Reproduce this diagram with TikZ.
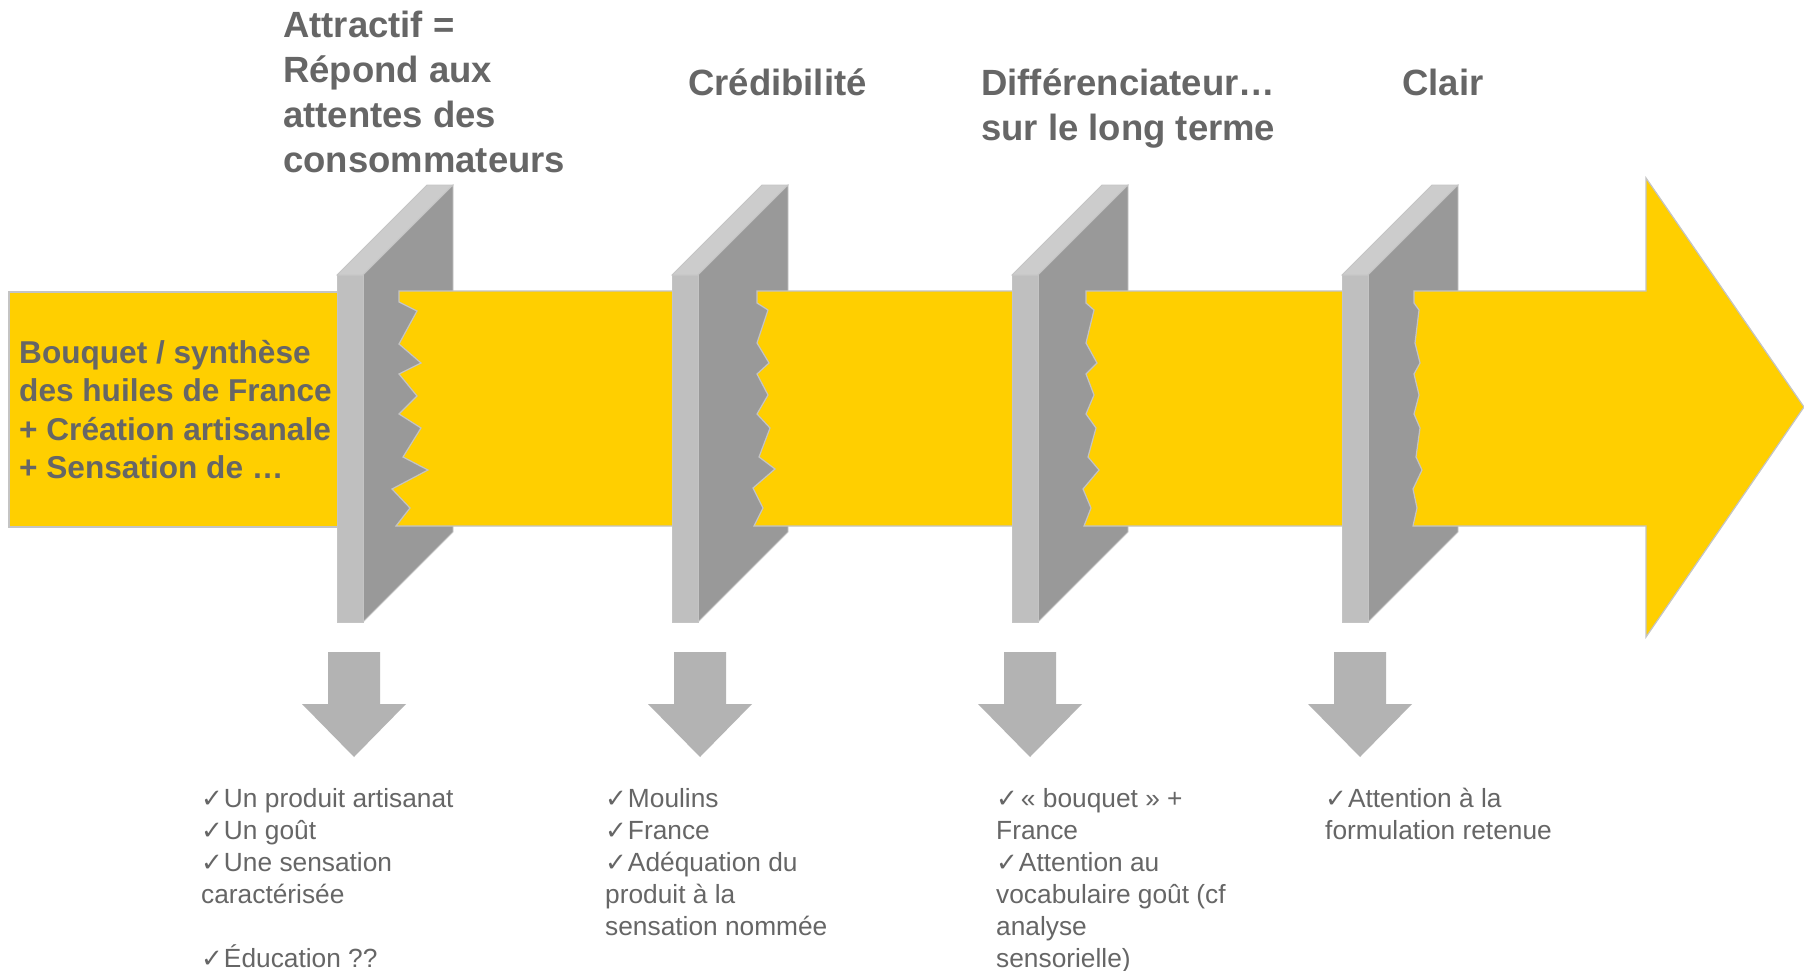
\documentclass[tikz,border=0pt]{standalone}
\usepackage{fontspec}
\setmainfont{Liberation Sans}
\newfontfamily\symf{DejaVu Sans}
\definecolor{ygold}{HTML}{FFCF00}
\definecolor{txtgray}{HTML}{666666}
\definecolor{wfront}{HTML}{BFBFBF}
\definecolor{wtop}{HTML}{CCCCCC}
\definecolor{wside}{HTML}{999999}
\definecolor{edgegray}{HTML}{C4C4C4}
\definecolor{darrow}{HTML}{B3B3B3}
\newcommand\ck{{\symf\fontsize{26}{26}\selectfont ✓}\kern1pt}
\newcommand\drawwall[1]{%
  \draw[walltop] (#1,275) -- (#1+90,185) -- (#1+116,185) -- (#1+26,275) -- cycle;
  \draw[wallside] (#1+26,275) -- (#1+116,185) -- (#1+116,532) -- (#1+26,622) -- cycle;
  \draw[wallfront] (#1,275) rectangle (#1+26,622);}
\begin{document}
\begin{tikzpicture}[x=1pt,y=-1pt,
  band/.style={fill=ygold, draw=edgegray, line width=1.2pt, line join=miter},
  wallfront/.style={fill=wfront, draw=edgegray, line width=0.8pt},
  walltop/.style={fill=wtop, draw=edgegray, line width=0.8pt},
  wallside/.style={fill=wside, draw=edgegray, line width=0.8pt},
  downarrow/.style={fill=darrow, draw=none},
  title/.style={anchor=base west, inner sep=0pt, text=txtgray, font=\fontsize{36.5}{44.7}\selectfont\bfseries},
  lefttext/.style={anchor=base west, inner sep=0pt, text=txtgray, font=\fontsize{31.6}{38.5}\selectfont\bfseries},
  bullet/.style={anchor=base west, inner sep=0pt, text=txtgray, font=\fontsize{26.3}{32}\selectfont}]
\useasboundingbox (0,0) rectangle (1804,971);
\fill[white] (0,0) rectangle (1804,971);

% left yellow box
\draw[band] (9,292) rectangle (350,527);

\drawwall{337}
\draw[band] (399,291) -- (399,302) -- (417,311) -- (399,344) -- (421,363) -- (399,374) -- (417,396) -- (399,414) -- (421,428) -- (403,457) -- (428,470) -- (392,489) -- (410,508) -- (396,526) -- (690,526) -- (690,291) -- cycle;

\drawwall{672}
\draw[band] (757,291) -- (757,303) -- (768,310) -- (757,343) -- (769,363) -- (757,374) -- (768,395) -- (757,414) -- (770,428) -- (759,457) -- (775,469) -- (753,488) -- (763,508) -- (754,526) -- (1030,526) -- (1030,291) -- cycle;

\drawwall{1012}
\draw[band] (1086,291) -- (1086,303) -- (1094,310) -- (1086,343) -- (1097,363) -- (1086,374) -- (1094,395) -- (1086,414) -- (1096,428) -- (1088,457) -- (1099,470) -- (1083,489) -- (1091,508) -- (1084,526) -- (1360,526) -- (1360,291) -- cycle;

\drawwall{1342}
\draw[band] (1414,291) -- (1414,303) -- (1419,310) -- (1415,343) -- (1420,363) -- (1414,374) -- (1419,395) -- (1414,414) -- (1420,428) -- (1416,457) -- (1422,470) -- (1413,489) -- (1417,508) -- (1413,526) -- (1646,526) -- (1646,637) -- (1804,407) -- (1646,178) -- (1646,291) -- cycle;

% down arrows
\foreach \c in {354,700,1030,1360}{
  \fill[downarrow] (\c-26,652) -- (\c+26,652) -- (\c+26,704) -- (\c+52,704) -- (\c,757) -- (\c-52,704) -- (\c-26,704) -- cycle;
}

% titles
\node[title] (t1) at (283,38) {\vtop{\hbox{Attractif =}\hbox{Répond aux}\hbox{attentes des}\hbox{consommateurs}}};
\node[title] (t2) at (688,96) {Crédibilité};
\node[title] (t3) at (981,96) {\vtop{\hbox{Différenciateur…}\hbox{sur le long terme}}};
\node[title] (t4) at (1402,96) {Clair};

% left text
\node[lefttext] (src) at (19,363) {\vtop{\hbox{Bouquet / synthèse}\hbox{des huiles de France}\hbox{+ Création artisanale}\hbox{+ Sensation de …}}};

% bottom texts
\node[bullet] (b1) at (201,807) {\vtop{\hbox{\ck Un produit artisanat}\hbox{\ck Un goût}\hbox{\ck Une sensation}\hbox{caractérisée}\hbox{}\hbox{\ck Éducation ??}}};
\node[bullet] (b2) at (605,807) {\vtop{\hbox{\ck Moulins}\hbox{\ck France}\hbox{\ck Adéquation du}\hbox{produit à la}\hbox{sensation nommée}}};
\node[bullet] (b3) at (996,807) {\vtop{\hbox{\ck\kern2pt« bouquet » +}\hbox{France}\hbox{\ck Attention au}\hbox{vocabulaire goût (cf}\hbox{analyse}\hbox{sensorielle)}}};
\node[bullet] (b4) at (1325,807) {\vtop{\hbox{\ck Attention à la}\hbox{formulation retenue}}};
\end{tikzpicture}
\end{document}
